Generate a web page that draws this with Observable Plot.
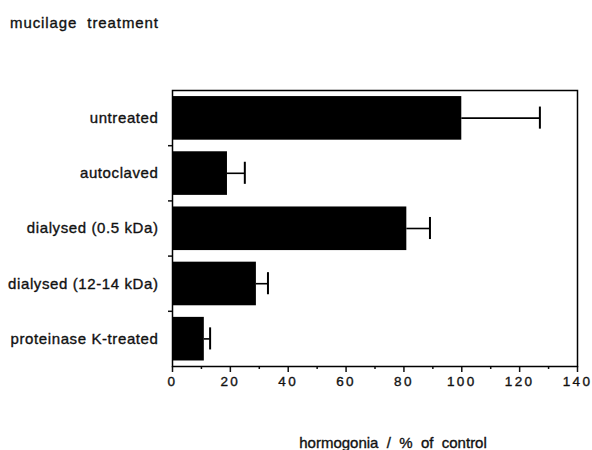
<!DOCTYPE html>
<html>
<head>
<meta charset="utf-8">
<script src="https://cdn.jsdelivr.net/npm/d3@7"></script>
<script src="https://cdn.jsdelivr.net/npm/@observablehq/plot@0.6"></script>
<style>
  html, body { margin: 0; padding: 0; background: #fff; }
  #wrap { position: relative; width: 592px; height: 450px; font-family: "Liberation Sans", Arial, Helvetica, sans-serif; }
  #title { position: absolute; left: 10px; top: 14px; font-size: 15px; letter-spacing: 0.9px; white-space: pre; color: #111; -webkit-text-stroke: 0.35px #111; }
  #chart { position: absolute; left: 0; top: 0; }
  svg text { stroke: #111; stroke-width: 0.35px; }
  g[aria-label="x-axis tick label"] text { letter-spacing: 2.4px; font-size: 13.5px; }
  g[aria-label="y-axis tick label"] text { letter-spacing: 0.6px; }
  g[aria-label="xlabel"] text { letter-spacing: 1.2px; }
</style>
</head>
<body>
<div id="wrap">
  <div id="chart"></div>
  <div id="title">mucilage  treatment</div>
</div>
<script>
const categories = ["untreated", "autoclaved", "dialysed (0.5 kDa)", "dialysed (12-14 kDa)", "proteinase K-treated"];
const values = [100, 19, 81, 29, 11];
const upper = [127, 25, 89, 33, 13];
const xTicks = [0, 20, 40, 60, 80, 100, 120, 140];
const xMinorTicks = [10, 30, 50, 70, 90, 110, 130];
const xLabel = "hormogonia  /  %  of  control";

const data = categories.map((c, i) => ({category: c, i, value: values[i], upper: upper[i]}));

const plot = Plot.plot({
  width: 592,
  height: 450,
  marginTop: 90,
  marginBottom: 84,
  marginLeft: 172,
  marginRight: 15,
  style: {fontFamily: '"Liberation Sans", Arial, Helvetica, sans-serif', fontSize: "15px", color: "#111", background: "#fff"},
  x: {domain: [0, 140]},
  y: {domain: [0, categories.length], reverse: true},
  marks: [
    Plot.rect(data, {x1: 0, x2: "value", y1: d => d.i + 0.11, y2: d => d.i + 0.9, fill: "#000"}),
    Plot.ruleY(data, {y: d => d.i + 0.5, x1: "value", x2: "upper", stroke: "#000", strokeWidth: 1.6}),
    Plot.ruleX(data, {x: "upper", y1: d => d.i + 0.3, y2: d => d.i + 0.7, stroke: "#000", strokeWidth: 2}),
    Plot.axisY({ticks: categories.map((c, i) => i + 0.5), tickFormat: t => categories[Math.floor(t)], tickSize: 0, tickPadding: 14, fontSize: 15, label: null}),
    Plot.axisY({ticks: d3.range(1, categories.length), tickSize: 4, tickFormat: () => "", strokeWidth: 1.5, label: null}),
    Plot.axisX({ticks: xTicks, tickSize: 6, tickPadding: 4, strokeWidth: 1.5, fontSize: 13.5, label: null}),
    Plot.axisX({ticks: xMinorTicks, tickSize: 3, tickFormat: () => "", strokeWidth: 1.5, label: null}),
    Plot.frame({stroke: "#000", strokeWidth: 1.5}),
    Plot.text([xLabel], {text: d => d, frameAnchor: "bottom", dx: 18, dy: 81, lineAnchor: "bottom", fontSize: 15, fill: "#111", ariaLabel: "xlabel"})
  ]
});
document.getElementById("chart").appendChild(plot);
</script>
</body>
</html>
